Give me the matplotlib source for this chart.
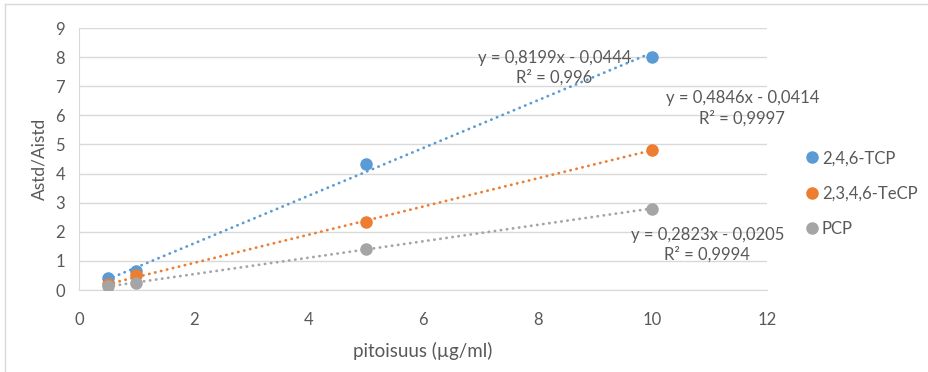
import matplotlib
matplotlib.use("Agg")
import matplotlib.pyplot as plt
from matplotlib.lines import Line2D
import numpy as np

plt.rcParams.update({
    "font.family": ["Lato", "DejaVu Sans"],
    "font.size": 12,
})

# data
conc = [0.5, 1, 5, 10]
series_names = ["2,4,6-TCP", "2,3,4,6-TeCP", "PCP"]
tcp = [0.42, 0.66, 4.34, 8.02]
tecp = [0.22, 0.52, 2.35, 4.82]
pcp = [0.13, 0.23, 1.42, 2.77]
slopes = [0.8199, 0.4846, 0.2823]
intercepts = [-0.0444, -0.0414, -0.0205]
eq_labels = ["y = 0,8199x - 0,0444\nR² = 0,996",
             "y = 0,4846x - 0,0414\nR² = 0,9997",
             "y = 0,2823x - 0,0205\nR² = 0,9994"]
eq_pos = [(8.29, 7.63), (11.57, 6.25), (10.96, 1.55)]

COLORS = ["#5B9BD5", "#ED7D31", "#A5A5A5"]
TXT = "#595959"

fig = plt.figure(figsize=(9.29, 3.72), dpi=100)
ax = fig.add_axes([0.085, 0.2204, 0.7406, 0.7043])

values = [tcp, tecp, pcp]
xs = np.array([conc[0], conc[-1]])
for ys, m, b, c in zip(values, slopes, intercepts, COLORS):
    ax.plot(xs, m * xs + b, color=c, lw=2, ls=(0, (0.1, 2.1)),
            dash_capstyle="round", zorder=2)
for ys, c in zip(values, COLORS):
    ax.plot(conc, ys, "o", color=c, ms=8, zorder=3)

for lab, (x, y) in zip(eq_labels, eq_pos):
    ax.text(x, y, lab, ha="center", va="center", fontsize=12,
            color=TXT, linespacing=1.3, zorder=4)

ax.set_xlim(0, 12)
ax.set_ylim(0, 9)
ax.set_xticks(range(0, 13, 2))
ax.set_yticks(range(0, 10))
ax.grid(axis="y", color="#D9D9D9", lw=1)
ax.set_axisbelow(True)
for s in ["top", "right"]:
    ax.spines[s].set_visible(False)
for s in ["left", "bottom"]:
    ax.spines[s].set_color("#D9D9D9")
ax.tick_params(axis="x", pad=16)
ax.tick_params(axis="y", pad=10)
ax.tick_params(length=0, colors=TXT, labelsize=12)
ax.set_xlabel("pitoisuus (µg/ml)", color=TXT, fontsize=13.5, labelpad=10)
ax.set_ylabel("Astd/Aistd", color=TXT, fontsize=12.5, labelpad=6)

handles = [Line2D([], [], marker="o", ls="", color=c, ms=8) for c in COLORS]
fig.legend(handles, series_names, loc="center left",
           bbox_to_anchor=(0.847, 0.48), frameon=False, fontsize=12,
           labelcolor=TXT, handletextpad=0.0, labelspacing=1.15,
           handlelength=1.2)

# chart-area frame (top and left edges visible)
fig.add_artist(Line2D([5 / 929, 5 / 929], [0, 1 - 4 / 372],
                      color="#D9D9D9", lw=1, transform=fig.transFigure))
fig.add_artist(Line2D([5 / 929, 1], [1 - 4 / 372, 1 - 4 / 372],
                      color="#D9D9D9", lw=1, transform=fig.transFigure))

fig.savefig("out.png", dpi=100)
